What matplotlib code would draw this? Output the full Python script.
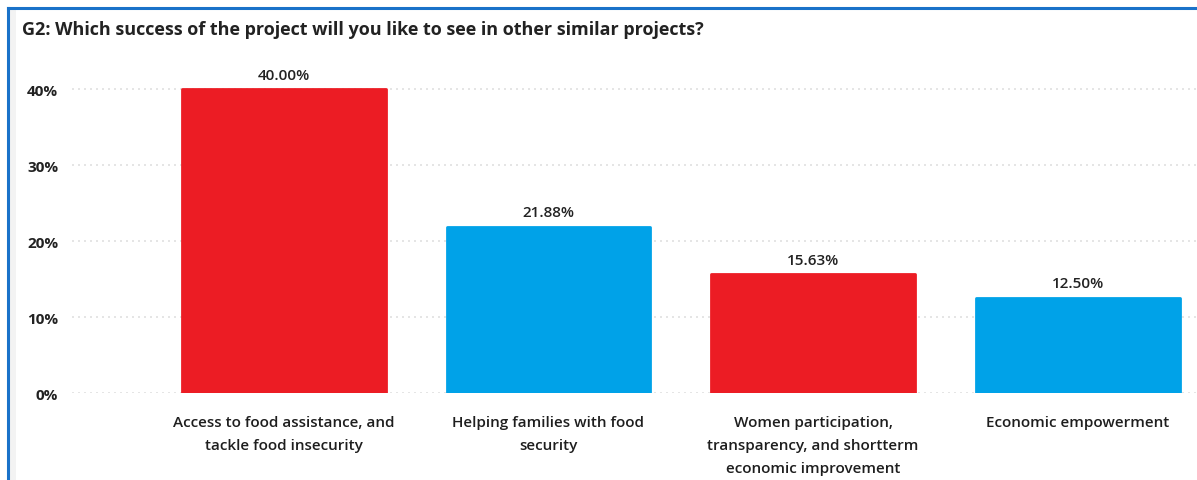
import matplotlib.pyplot as plt
from matplotlib.patches import Rectangle
from matplotlib.ticker import FuncFormatter

plt.rcParams['font.family'] = ['Open Sans', 'DejaVu Sans']

categories = [
    "Access to food assistance, and\ntackle food insecurity",
    "Helping families with food\nsecurity",
    "Women participation,\ntransparency, and shortterm\neconomic improvement",
    "Economic empowerment",
]
shares = [40.00, 21.88, 15.63, 12.50]
bar_colors = ["#ec1c24", "#00a2e8", "#ec1c24", "#00a2e8"]
y_ticks = [0, 10, 20, 30, 40]

W, H = 1197, 481
fig = plt.figure(figsize=(W / 100, H / 100), dpi=100)
fig.patch.set_facecolor("white")

# blue frame around the visual (only top and left sides fall inside the image)
fig.add_artist(plt.Line2D([8 / W, 8 / W], [0, 1 - 9 / H], transform=fig.transFigure,
                          color="#1a72c9", lw=2.2))
fig.add_artist(plt.Line2D([8 / W, 1], [1 - 9 / H, 1 - 9 / H], transform=fig.transFigure,
                          color="#1a72c9", lw=2.2))
fig.add_artist(Rectangle((9.5 / W, 0), 6 / W, 1 - 10 / H, transform=fig.transFigure,
                         color="#f3f3f3", lw=0))

fig.text(22 / W, 1 - 30 / H, "G2: Which success of the project will you like to see in other similar projects?",
         fontsize=13, fontweight="bold", color="#222222", va="center", ha="left")

# axes: 0% at y=394 px, top at y=75 px, grid from x=72 px to the right edge
left, right = 72, W
bottom, top = 394, 75
ax = fig.add_axes([left / W, 1 - bottom / H, (right - left) / W, (bottom - top) / H])
ax.set_xlim(-0.80, 3.45)
ax.set_ylim(0, 42)

x = range(len(categories))
bars = ax.bar(x, shares, width=0.77, color=bar_colors, edgecolor=bar_colors,
              linewidth=2, joinstyle="round", zorder=3)

for b, v in zip(bars, shares):
    ax.text(b.get_x() + b.get_width() / 2, v + 1.0, f"{v:.2f}%", ha="center", va="bottom",
            fontsize=11, fontweight="semibold", color="#222222")

ax.set_yticks(y_ticks)
ax.yaxis.set_major_formatter(FuncFormatter(lambda v, p: f"{v:.0f}%"))
ax.set_xticks(list(x))
ax.set_xticklabels(categories, fontsize=11, fontweight="semibold", color="#1e1e1e",
                   linespacing=1.8)
for lab in ax.get_yticklabels():
    lab.set_fontsize(11)
    lab.set_fontweight("bold")
    lab.set_color("#222222")
ax.tick_params(axis="both", length=0)
ax.tick_params(axis="x", pad=16)
ax.tick_params(axis="y", pad=10)

ax.grid(axis="y", color="#e0e0e0", linestyle=(0, (1.2, 2.4)), linewidth=1.2, zorder=0)
for s in ax.spines.values():
    s.set_visible(False)

fig.savefig("out.png", dpi=100)
